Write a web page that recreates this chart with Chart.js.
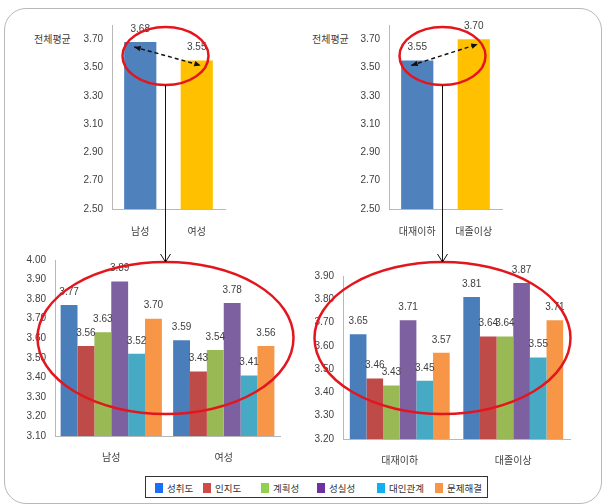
<!DOCTYPE html>
<html>
<head>
<meta charset="utf-8">
<script src="https://cdn.jsdelivr.net/npm/chart.js@4.4.0/dist/chart.umd.min.js"></script>
<style>
    body { margin: 0; width: 607px; height: 504px; background: #fff; overflow: hidden; position: relative;
           font-family: 'Liberation Sans', 'Noto Sans CJK KR', sans-serif; }
    .frame { position: absolute; left: 4px; top: 8px; width: 596px; height: 494px; border: 1px solid #b8b8b8; border-radius: 22px; }
    .box { position: absolute; }
    .ytitle { position: absolute; font-size: 10px; color: #404040; }
    #legend { position: absolute; left: 145px; top: 476px; width: 341px; height: 20px; border: 1px solid #333; font-size: 9.5px; color: #333; }
    #legend .item { position: absolute; top: 4px; display: flex; align-items: center; white-space: nowrap; }
    #legend i { display: inline-block; width: 8px; height: 10px; margin-right: 4px; }
    #overlay { position: absolute; left: 0; top: 0; pointer-events: none; }
</style>
</head>
<body>
<div class="frame"></div>

<div class="ytitle" style="left:34px;top:31px;">전체평균</div>
<div class="ytitle" style="left:312px;top:31px;">전체평균</div>

<div class="box" style="left:70px;top:10px;width:170px;height:240px;"><canvas id="genderTotalChart"></canvas></div>
<div class="box" style="left:347px;top:10px;width:170px;height:240px;"><canvas id="eduTotalChart"></canvas></div>
<div class="box" style="left:5px;top:245px;width:290px;height:230px;"><canvas id="genderChart"></canvas></div>
<div class="box" style="left:293px;top:245px;width:295px;height:230px;"><canvas id="eduChart"></canvas></div>

<div id="legend"></div>
<canvas id="overlay" width="607" height="504"></canvas>

<script>
// ================================
// Data
// ================================
const genderLabels = ["남성", "여성"];
const genderTotal = [3.68, 3.55];
const eduLabels = ["대재이하", "대졸이상"];
const eduTotal = [3.55, 3.70];
const totalTicks = [2.5, 2.7, 2.9, 3.1, 3.3, 3.5, 3.7];

const factors = ["성취도", "인지도", "계획성", "성실성", "대인관계", "문제해결"];
const maleValues = [3.77, 3.56, 3.63, 3.89, 3.52, 3.70];
const femaleValues = [3.59, 3.43, 3.54, 3.78, 3.41, 3.56];
const belowCollegeValues = [3.65, 3.46, 3.43, 3.71, 3.45, 3.57];
const collegeValues = [3.81, 3.64, 3.64, 3.87, 3.55, 3.71];
const genderTicks = [3.1, 3.2, 3.3, 3.4, 3.5, 3.6, 3.7, 3.8, 3.9, 4.0];
const eduTicks = [3.2, 3.3, 3.4, 3.5, 3.6, 3.7, 3.8, 3.9];

const totalColors = ["#4f81bd", "#ffc000"];
const factorColors = ["#4a7ebb", "#be4b48", "#98b954", "#7d60a0", "#46aac5", "#f79646"];
const legendColors = ["#1a6ff5", "#cf4b47", "#92d050", "#7030a0", "#10b0f0", "#f79646"];
const legendLeft = [9, 57, 115, 171, 231, 289];

const FONT = "'Liberation Sans', 'Noto Sans CJK KR', sans-serif";
const AXIS = "#b8b8b8";
const TEXT = "#404040";

// ================================
// Axis helpers
// ================================
function yAxis(min, max, ticks, width) {
    return {
        min: min,
        max: max,
        grid: { display: false, drawTicks: false },
        border: { display: true, color: AXIS },
        ticks: { padding: 9, color: TEXT, autoSkip: false, font: { size: 10, family: FONT },
                 callback: v => Number(v).toFixed(2) },
        afterBuildTicks: s => { s.ticks = ticks.map(v => ({ value: v })); },
        afterFit: s => { s.width = width; }
    };
}

function xAxis(height, pad) {
    return {
        grid: { display: false, drawTicks: false },
        border: { display: true, color: AXIS },
        ticks: { padding: pad, color: TEXT, font: { size: 10, family: FONT } },
        afterFit: s => { s.height = height; }
    };
}

// value labels above bars
const valueLabels = {
    id: "valueLabels",
    afterDatasetsDraw(chart) {
        const ctx = chart.ctx;
        ctx.save();
        ctx.font = "10px " + FONT;
        ctx.fillStyle = TEXT;
        ctx.textAlign = "center";
        ctx.textBaseline = "bottom";
        chart.data.datasets.forEach((ds, i) => {
            chart.getDatasetMeta(i).data.forEach((bar, j) => {
                ctx.fillText(ds.data[j].toFixed(2), bar.x, bar.y - 8);
            });
        });
        ctx.restore();
    }
};

const baseOptions = {
    responsive: true,
    maintainAspectRatio: false,
    animation: false,
    events: [],
    plugins: { legend: { display: false }, tooltip: { enabled: false } }
};

// ================================
// Charts
// ================================
function totalChart(id, labels, values) {
    return new Chart(document.getElementById(id), {
        type: "bar",
        data: {
            labels: labels,
            datasets: [{ data: values, backgroundColor: totalColors, categoryPercentage: 0.57, barPercentage: 1 }]
        },
        options: Object.assign({}, baseOptions, {
            layout: { padding: { top: 14, right: 15, left: 0, bottom: 0 } },
            scales: { x: xAxis(41, 17), y: yAxis(2.5, 3.8, totalTicks, 42) }
        }),
        plugins: [valueLabels]
    });
}

function factorChart(id, labels, a, b, ticks, min, max, padTop, xHeight, padRight, pct) {
    return new Chart(document.getElementById(id), {
        type: "bar",
        data: {
            labels: labels,
            datasets: factors.map((f, i) => ({
                label: f,
                data: [a[i], b[i]],
                backgroundColor: factorColors[i],
                categoryPercentage: pct,
                barPercentage: 1
            }))
        },
        options: Object.assign({}, baseOptions, {
            layout: { padding: { top: padTop, right: padRight, left: 0, bottom: 0 } },
            scales: { x: xAxis(xHeight, 16), y: yAxis(min, max, ticks, 50) }
        }),
        plugins: [valueLabels]
    });
}

const c1 = totalChart("genderTotalChart", genderLabels, genderTotal);
const c2 = totalChart("eduTotalChart", eduLabels, eduTotal);
const c3 = factorChart("genderChart", genderLabels, maleValues, femaleValues, genderTicks, 3.1, 4.0, 12, 39, 15, 0.9);
const c4 = factorChart("eduChart", eduLabels, belowCollegeValues, collegeValues, eduTicks, 3.2, 3.9, 31, 36, 18, 0.88);

// ================================
// Legend
// ================================
const legend = document.getElementById("legend");
factors.forEach((f, i) => {
    const item = document.createElement("span");
    item.className = "item";
    item.style.left = legendLeft[i] + "px";
    item.innerHTML = '<i style="background:' + legendColors[i] + '"></i>' + f;
    legend.appendChild(item);
});

// ================================
// Annotations (ellipses + arrows)
// ================================
function barPos(chart, idx) {
    const r = chart.canvas.getBoundingClientRect();
    const bar = chart.getDatasetMeta(0).data[idx];
    return { x: r.left + bar.x, y: r.top + bar.y };
}

function head(ctx, x, y, ang) {
    ctx.beginPath();
    ctx.moveTo(x, y);
    ctx.lineTo(x - 7 * Math.cos(ang - 0.4), y - 7 * Math.sin(ang - 0.4));
    ctx.lineTo(x - 7 * Math.cos(ang + 0.4), y - 7 * Math.sin(ang + 0.4));
    ctx.closePath();
    ctx.fill();
}

function annotate(chart) {
    const ctx = document.getElementById("overlay").getContext("2d");
    const b0 = barPos(chart, 0), b1 = barPos(chart, 1);
    const cx = (b0.x + b1.x) / 2 - 3;

    ctx.strokeStyle = "#e3161e";
    ctx.lineWidth = 2.5;
    ctx.beginPath(); ctx.ellipse(cx, 56, 43, 29, 0, 0, Math.PI * 2); ctx.stroke();
    ctx.beginPath(); ctx.ellipse(cx, 338, 128, 76, 0, 0, Math.PI * 2); ctx.stroke();

    // vertical connector
    ctx.strokeStyle = "#111";
    ctx.lineWidth = 1;
    ctx.beginPath();
    ctx.moveTo(cx, 85); ctx.lineTo(cx, 262);
    ctx.moveTo(cx - 5, 254); ctx.lineTo(cx, 262); ctx.lineTo(cx + 5, 254);
    ctx.stroke();

    // dashed double arrow between bar tops
    const x0 = b0.x - 6, y0 = b0.y + 5, x1 = b1.x + 4, y1 = b1.y + 5;
    const ang = Math.atan2(y1 - y0, x1 - x0);
    ctx.setLineDash([4, 3]);
    ctx.lineWidth = 1.5;
    ctx.beginPath(); ctx.moveTo(x0, y0); ctx.lineTo(x1, y1); ctx.stroke();
    ctx.setLineDash([]);
    ctx.fillStyle = "#111";
    head(ctx, x1, y1, ang);
    head(ctx, x0, y0, ang + Math.PI);
}

annotate(c1);
annotate(c2);
</script>
</body>
</html>
